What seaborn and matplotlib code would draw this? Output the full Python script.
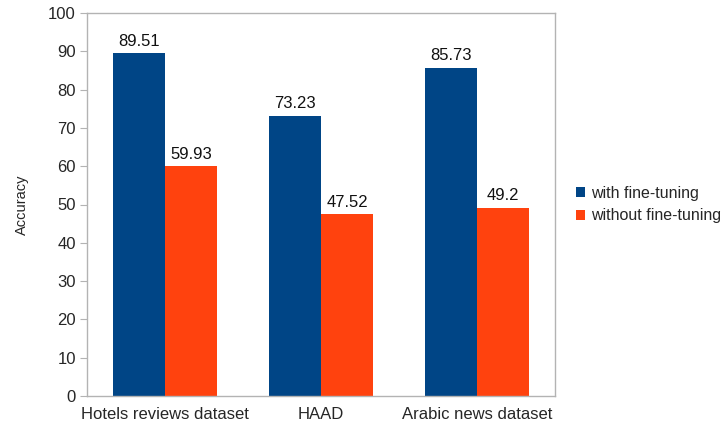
import pandas as pd
import seaborn as sns
import matplotlib.pyplot as plt

categories = ["Hotels reviews dataset", "HAAD", "Arabic news dataset"]
with_ft = [89.51, 73.23, 85.73]
without_ft = [59.93, 47.52, 49.2]
series_names = ["with fine-tuning", "without fine-tuning"]
colors = ["#004586", "#ff420e"]

df = pd.DataFrame({
    "dataset": categories * 2,
    "Accuracy": with_ft + without_ft,
    "series": [series_names[0]] * 3 + [series_names[1]] * 3,
})

sns.set_style("white")
plt.rcParams['font.family'] = ['Liberation Sans', 'DejaVu Sans']

fig = plt.figure(figsize=(7.27, 4.28), dpi=100)
ax = fig.add_axes([87 / 727, 1 - 396 / 428, (555 - 87) / 727, (396 - 13) / 428])

sns.barplot(data=df, x="dataset", y="Accuracy", hue="series", palette=colors,
            width=2 / 3, gap=0, saturation=1, linewidth=0, ax=ax, legend=True)

# value labels
for cont in ax.containers:
    ax.bar_label(cont, labels=[f"{v:g}" for v in cont.datavalues],
                 padding=3, fontsize=12, color="#111111")

ax.set_ylim(0, 100)
ax.set_xlim(-0.5, 2.5)
ax.set_yticks(range(0, 101, 10))
ax.set_xlabel("")
ax.set_ylabel("Accuracy", fontsize=10.5)
ax.yaxis.set_label_coords(-0.125, 0.5)

ax.tick_params(axis="y", length=5, color="#b3b3b3", labelsize=12, pad=3, direction="out")
ax.tick_params(axis="x", which="major", length=0, labelsize=12, pad=8)
ax.set_xticks([-0.5, 0.5, 1.5, 2.5], minor=True)
ax.tick_params(axis="x", which="minor", length=5, color="#b3b3b3", direction="out")
ax.tick_params(left=True, bottom=True)

for s in ax.spines.values():
    s.set_color("#b3b3b3")
    s.set_linewidth(1)

ax.legend(loc="center left", bbox_to_anchor=(1.02, 0.5), frameon=False,
          fontsize=11.5, handlelength=0.6, handleheight=0.6, handletextpad=0.4,
          labelspacing=0.5, borderaxespad=0.3)

fig.savefig("out.png", dpi=100)
